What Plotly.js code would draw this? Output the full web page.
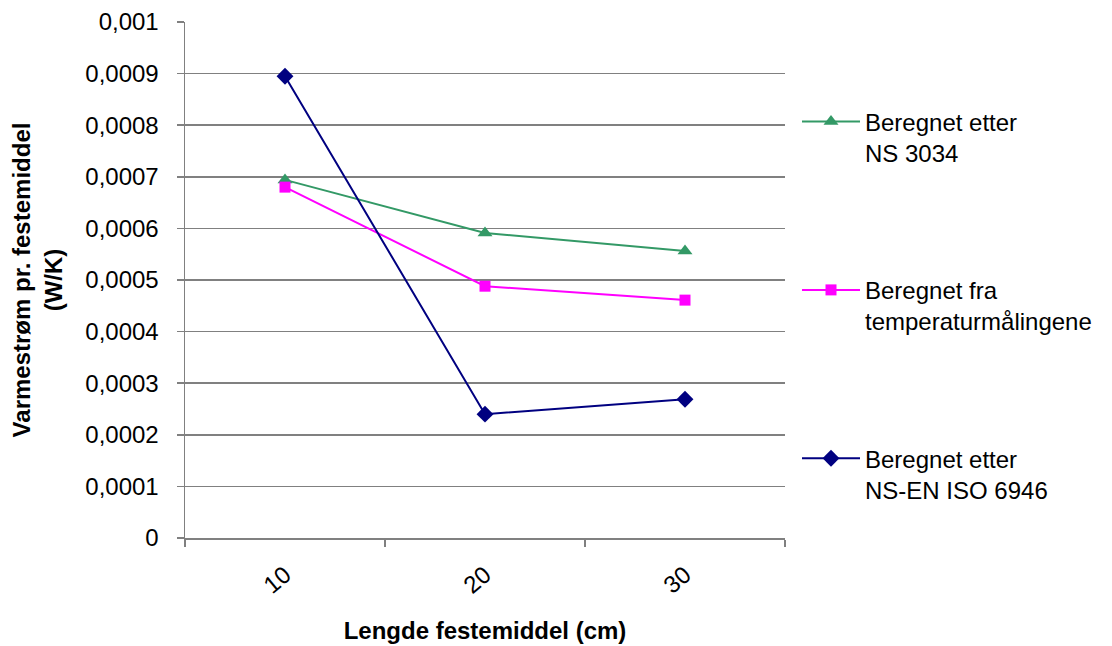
<!DOCTYPE html>
<html>
<head>
<meta charset="utf-8">
<script src="https://cdn.plot.ly/plotly-3.0.1.min.js"></script>
<style>html,body{margin:0;padding:0;background:#fff;}#chart{width:1112px;height:646px;}</style>
</head>
<body>
<div id="chart"></div>
<script>
const categories = ["10", "20", "30"];
const seriesNames = ["Beregnet etter<br>NS 3034", "Beregnet fra<br>temperaturmålingene", "Beregnet etter<br>NS-EN ISO 6946"];
const ns3034 = [0.000694, 0.000591, 0.000556];
const measured = [0.000680, 0.000488, 0.000461];
const iso6946 = [0.000895, 0.000240, 0.000269];
const yTickVals = [0, 0.0001, 0.0002, 0.0003, 0.0004, 0.0005, 0.0006, 0.0007, 0.0008, 0.0009, 0.001];

const font = "Liberation Sans, Arial, sans-serif";
const traces = [
  {x: categories, y: ns3034, name: seriesNames[0], legendgroup: "a", mode: "lines+markers", type: "scatter",
   line: {color: "#339966", width: 2}, marker: {symbol: "triangle-up", size: 13, color: "#339966"}},
  {x: categories, y: measured, name: seriesNames[1], legendgroup: "b", mode: "lines+markers", type: "scatter",
   line: {color: "#FF00FF", width: 2}, marker: {symbol: "square", size: 11, color: "#FF00FF"}},
  {x: categories, y: iso6946, name: seriesNames[2], legendgroup: "c", mode: "lines+markers", type: "scatter",
   line: {color: "#000080", width: 2}, marker: {symbol: "diamond", size: 13, color: "#000080"}}
];

const layout = {
  width: 1112, height: 646,
  margin: {l: 185, r: 327, t: 22, b: 108, pad: 0},
  paper_bgcolor: "#fff", plot_bgcolor: "#fff",
  font: {family: font, size: 24, color: "#000"},
  separators: ", ",
  showlegend: true,
  legend: {x: 1.02, xanchor: "left", y: 0.85, yanchor: "top", valign: "top",
           tracegroupgap: 103, itemwidth: 58, font: {family: font, size: 24, color: "#000"},
           bgcolor: "rgba(0,0,0,0)"},
  xaxis: {
    type: "category", range: [-0.5, 2.5], tickson: "boundaries",
    showline: true, linecolor: "#808080", linewidth: 1.5,
    ticks: "outside", ticklen: 7, tickcolor: "#808080", tickwidth: 1.5,
    showgrid: false, zeroline: false, tickangle: -40,
    ticklabelstandoff: 12,
    tickfont: {family: font, size: 24, color: "#000"},
    title: {text: "Lengde festemiddel (cm)", font: {family: font, size: 24, color: "#000", weight: "bold"}, standoff: 24}
  },
  yaxis: {
    range: [0, 0.001], tickvals: yTickVals, tickformat: ".4~f",
    showline: true, linecolor: "#808080", linewidth: 1.5,
    ticks: "outside", ticklen: 7, tickcolor: "#808080", tickwidth: 1.5,
    showgrid: true, gridcolor: "#808080", gridwidth: 1.5, zeroline: false,
    ticklabelstandoff: 13,
    tickfont: {family: font, size: 24, color: "#000"},
    title: {text: "Varmestrøm pr. festemiddel<br>(W/K)", font: {family: font, size: 24, color: "#000", weight: "bold"}, standoff: 16}
  }
};

Plotly.newPlot("chart", traces, layout, {displayModeBar: false, staticPlot: true});
</script>
</body>
</html>
